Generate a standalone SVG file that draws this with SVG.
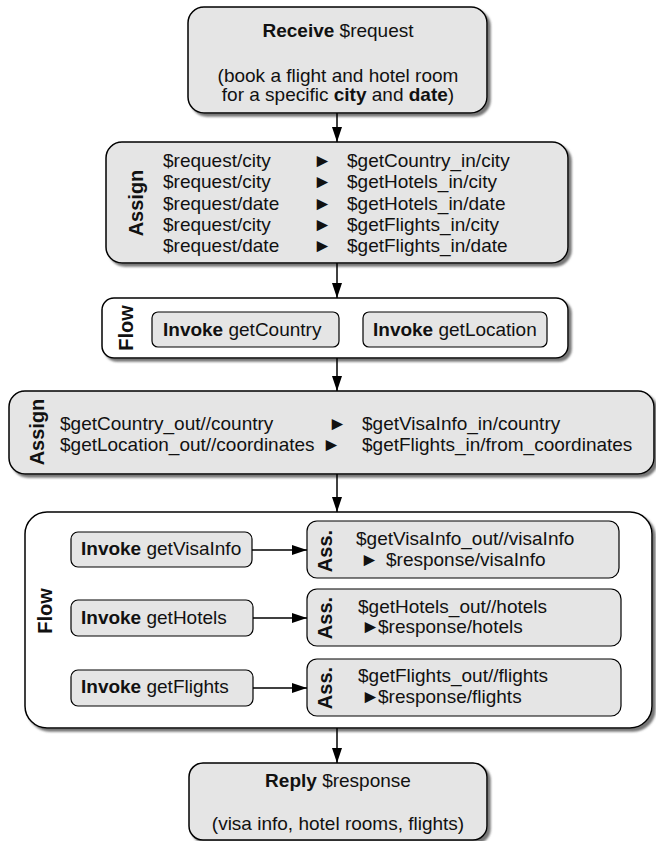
<svg xmlns="http://www.w3.org/2000/svg" width="656" height="841" viewBox="0 0 656 841">
<defs>
<style>
.box{fill:#e5e5e5;stroke:#000;stroke-width:1.5}
.cont{fill:#fff;stroke:#000;stroke-width:1.5}
.inner{fill:#e5e5e5;stroke:#000;stroke-width:1.2}
.sh{filter:url(#sh)}
text{font-family:"Liberation Sans",Arial,"DejaVu Sans",sans-serif;font-size:19px;fill:#111}
.b{font-weight:bold}
.lbl{font-weight:bold;font-size:20px;text-anchor:middle}
.c{text-anchor:middle}
.edge{stroke:#000;stroke-width:1.5;fill:none;marker-end:url(#ah)}
</style>
<filter id="sh" x="-5%" y="-5%" width="115%" height="125%">
<feDropShadow dx="3" dy="3" stdDeviation="1" flood-color="#555" flood-opacity="0.8"/>
</filter>
<marker id="ah" viewBox="0 0 15 10" refX="15" refY="5" markerWidth="15" markerHeight="10" orient="auto" markerUnits="userSpaceOnUse">
<path d="M0,0 L15,5 L0,10 z" fill="#000"/>
</marker>
</defs>

<g id="receive">
<rect class="box sh" x="188" y="7" width="299" height="106" rx="16"/>
<text class="c" x="338" y="37"><tspan class="b">Receive</tspan> $request</text>
<text class="c" x="338" y="82">(book a flight and hotel room</text>
<text class="c" x="338" y="101">for a specific <tspan class="b">city</tspan> and <tspan class="b">date</tspan>)</text>
</g>

<g id="assign1">
<rect class="box sh" x="106" y="142" width="462" height="121" rx="16"/>
<text class="lbl" transform="translate(143,203) rotate(-90)">Assign</text>
<text x="163" y="167">$request/city</text>
<text x="163" y="188">$request/city</text>
<text x="163" y="209.5">$request/date</text>
<text x="163" y="230.5">$request/city</text>
<text x="163" y="251.5">$request/date</text>
<text x="313" y="167">►</text>
<text x="313" y="188">►</text>
<text x="313" y="209.5">►</text>
<text x="313" y="230.5">►</text>
<text x="313" y="251.5">►</text>
<text x="347" y="167">$getCountry_in/city</text>
<text x="347" y="188">$getHotels_in/city</text>
<text x="347" y="209.5">$getHotels_in/date</text>
<text x="347" y="230.5">$getFlights_in/city</text>
<text x="347" y="251.5">$getFlights_in/date</text>
</g>

<g id="flow1">
<rect class="cont sh" x="102" y="298" width="466" height="60" rx="12"/>
<text class="lbl" transform="translate(133,328) rotate(-90)">Flow</text>
</g>
<g id="invokeGetCountry">
<rect class="inner" x="152" y="312" width="187" height="35" rx="6"/>
<text x="163" y="336"><tspan class="b">Invoke</tspan> getCountry</text>
</g>
<g id="invokeGetLocation">
<rect class="inner" x="363" y="312" width="184" height="35" rx="6"/>
<text x="373" y="336"><tspan class="b">Invoke</tspan> getLocation</text>
</g>

<g id="assign2">
<rect class="box sh" x="9" y="391" width="645" height="83" rx="16"/>
<text class="lbl" transform="translate(44,432) rotate(-90)">Assign</text>
<text x="60" y="430">$getCountry_out//country</text>
<text x="60" y="451">$getLocation_out//coordinates</text>
<text x="328" y="430">►</text>
<text x="322" y="451">►</text>
<text x="362" y="430">$getVisaInfo_in/country</text>
<text x="362" y="451">$getFlights_in/from_coordinates</text>
</g>

<g id="flow2">
<rect class="cont sh" x="25" y="512" width="627" height="216" rx="22"/>
<text class="lbl" transform="translate(52,611) rotate(-90)">Flow</text>
</g>
<g id="invokeGetVisaInfo">
<rect class="inner" x="71" y="532" width="181" height="35" rx="7"/>
<text x="81" y="555"><tspan class="b">Invoke</tspan> getVisaInfo</text>
</g>
<g id="invokeGetHotels">
<rect class="inner" x="71" y="600" width="182" height="36" rx="7"/>
<text x="81" y="624"><tspan class="b">Invoke</tspan> getHotels</text>
</g>
<g id="invokeGetFlights">
<rect class="inner" x="71" y="670" width="182" height="36" rx="7"/>
<text x="81" y="693"><tspan class="b">Invoke</tspan> getFlights</text>
</g>
<g id="assVisaInfo">
<rect class="inner" x="307" y="521" width="312" height="57" rx="10"/>
<text class="lbl" transform="translate(332,551) rotate(-90)">Ass.</text>
<text x="356" y="545">$getVisaInfo_out//visaInfo</text>
<text x="360" y="566">►<tspan x="386">$response/visaInfo</tspan></text>
</g>
<g id="assHotels">
<rect class="inner" x="307" y="589" width="314" height="57" rx="10"/>
<text class="lbl" transform="translate(332,618) rotate(-90)">Ass.</text>
<text x="358" y="613">$getHotels_out//hotels</text>
<text x="361" y="633">►<tspan x="378">$response/hotels</tspan></text>
</g>
<g id="assFlights">
<rect class="inner" x="307" y="659" width="314" height="57" rx="10"/>
<text class="lbl" transform="translate(332,688) rotate(-90)">Ass.</text>
<text x="358" y="682">$getFlights_out//flights</text>
<text x="361" y="703">►<tspan x="378">$response/flights</tspan></text>
</g>

<g id="reply">
<rect class="box sh" x="189" y="763" width="298" height="77" rx="14"/>
<text class="c" x="338" y="787"><tspan class="b">Reply</tspan> $response</text>
<text class="c" x="338" y="830">(visa info, hotel rooms, flights)</text>
</g>

<g id="connectors">
<path class="edge" d="M337,113 L337,142"/>
<path class="edge" d="M337,263 L337,298"/>
<path class="edge" d="M337,358 L337,391"/>
<path class="edge" d="M337,474 L337,512"/>
<path class="edge" d="M337,728 L337,763"/>
<path class="edge" d="M252,550 L307,550"/>
<path class="edge" d="M253,618 L307,618"/>
<path class="edge" d="M253,688 L307,688"/>
</g>
</svg>
